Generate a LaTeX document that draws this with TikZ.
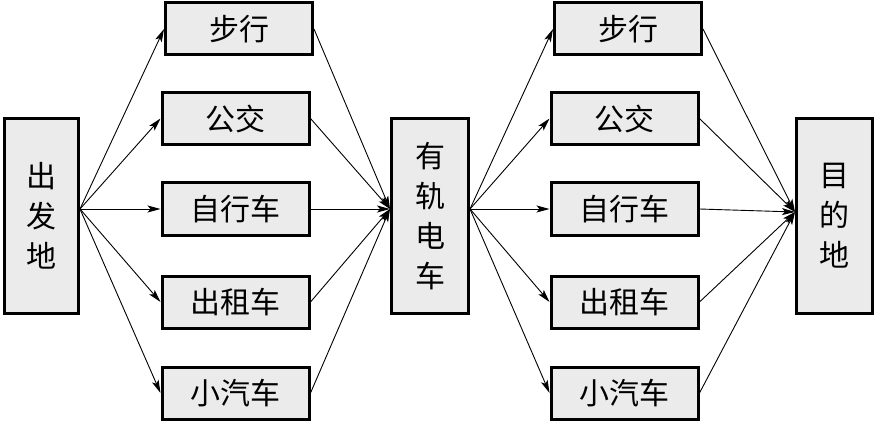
\documentclass[tikz,border=0pt]{standalone}
\usepackage{fontspec}
\setmainfont{Noto Sans CJK SC}
\usetikzlibrary{arrows.meta}
\definecolor{boxgray}{HTML}{EBEBEB}
\begin{document}
\begin{tikzpicture}[x=1pt,y=-1pt,
  box/.style={draw=black, line width=3pt, fill=boxgray, inner sep=0pt, font=\fontsize{30}{40}\selectfont},
  hbox/.style={box, minimum width=147pt, minimum height=52pt},
  vbox/.style={box, minimum height=195pt, align=center},
  arr/.style={-{Stealth[length=13pt,width=7pt,inset=3pt]}, line width=0.9pt}
]
\useasboundingbox (0,0) rectangle (875,422);
% tall boxes
\node[vbox, minimum width=74pt] (src) at (41.5,216) {出\\发\\地};
\node[vbox, minimum width=77pt] (mid) at (430,216) {有\\轨\\电\\车};
\node[vbox, minimum width=76pt] (dst) at (834.5,216) {目\\的\\地};
% first column
\node[hbox] (a1) at (239,29)    {步行};
\node[hbox] (a2) at (235.5,118.5) {公交};
\node[hbox] (a3) at (235.5,209)   {自行车};
\node[hbox] (a4) at (235.5,302)   {出租车};
\node[hbox] (a5) at (235.5,393)   {小汽车};
% second column
\node[hbox] (b1) at (628,29)    {步行};
\node[hbox] (b2) at (624.5,118.5) {公交};
\node[hbox] (b3) at (624.5,209)   {自行车};
\node[hbox] (b4) at (624.5,302)   {出租车};
\node[hbox] (b5) at (624.5,393)   {小汽车};
% convergence points
\coordinate (h209) at (0,209);
\coordinate (h212) at (0,212);
\coordinate (so) at (src.east |- h209);
\coordinate (mi) at (mid.west |- h209);
\coordinate (mo) at (mid.east |- h209);
\coordinate (di) at (dst.west |- h212);
\foreach \n in {a1,a2,a3,a4,a5}{
  \draw[arr] (so) -- (\n.west);
  \draw[arr] (\n.east) -- (mi);
}
\foreach \n in {b1,b2,b3,b4,b5}{
  \draw[arr] (mo) -- (\n.west);
  \draw[arr] (\n.east) -- (di);
}
\end{tikzpicture}
\end{document}
